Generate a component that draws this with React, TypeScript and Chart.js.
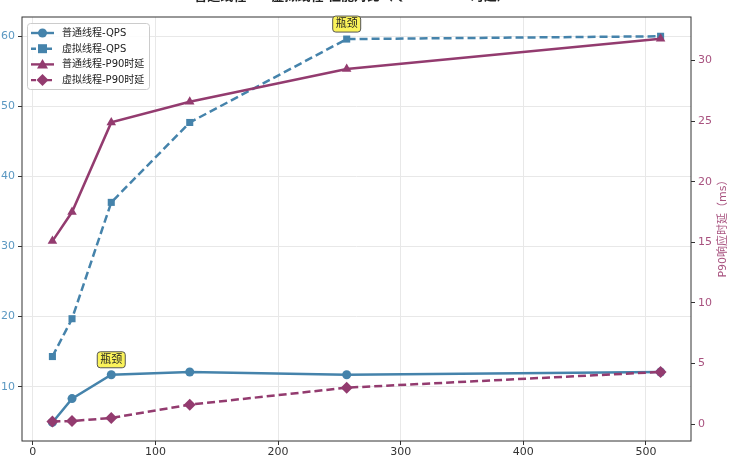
import React from "react"
import { Chart, registerables } from "chart.js"

Chart.register(...registerables)

const threads = [16, 32, 64, 128, 256, 512]
const platformQps = [4.9, 8.3, 11.7, 12.1, 11.7, 12.1]
const virtualQps = [14.3, 19.7, 36.3, 47.7, 59.6, 60.0]
const platformP90 = [15.1, 17.5, 24.9, 26.6, 29.3, 31.8]
const virtualP90 = [0.2, 0.25, 0.5, 1.6, 3.0, 4.3]
const bottlenecks = [
  { x: 64, y: 11.7 },
  { x: 256, y: 59.6 },
]
const xTicks = [0, 100, 200, 300, 400, 500]
const qpsTicks = [10, 20, 30, 40, 50, 60]
const p90Ticks = [0, 5, 10, 15, 20, 25, 30]

const BLUE = "#4583ab"
const PURPLE = "#933b6f"
const DASH = [8, 4]
const FONT = "'DejaVu Sans', 'Noto Sans CJK SC', sans-serif"
const TITLE = "普通线程 vs 虚拟线程 性能对比（QPS & P90时延）"
const RIGHT_TITLE = "P90响应时延（ms）"

const pts = (ys: number[]) => threads.map((x, i) => ({ x, y: ys[i] }))
const fixTicks = (values: number[]) => (s: any) => {
  s.ticks = values.map((value) => ({ value }))
}

const legendItems = [
  { label: "普通线程-QPS", color: BLUE, dash: [] as number[], marker: "circle" },
  { label: "虚拟线程-QPS", color: BLUE, dash: [5, 3], marker: "rect" },
  { label: "普通线程-P90时延", color: PURPLE, dash: [] as number[], marker: "triangle" },
  { label: "虚拟线程-P90时延", color: PURPLE, dash: [5, 3], marker: "rectRot" },
]

function marker(ctx: CanvasRenderingContext2D, kind: string, x: number, y: number, color: string) {
  ctx.save()
  ctx.fillStyle = color
  ctx.beginPath()
  if (kind === "circle") ctx.arc(x, y, 4.5, 0, Math.PI * 2)
  else if (kind === "rect") ctx.rect(x - 4.5, y - 4.5, 9, 9)
  else if (kind === "triangle") {
    ctx.moveTo(x, y - 5.5)
    ctx.lineTo(x + 5.5, y + 4)
    ctx.lineTo(x - 5.5, y + 4)
    ctx.closePath()
  } else {
    ctx.moveTo(x, y - 6)
    ctx.lineTo(x + 6, y)
    ctx.lineTo(x, y + 6)
    ctx.lineTo(x - 6, y)
    ctx.closePath()
  }
  ctx.fill()
  ctx.restore()
}

function roundRect(ctx: CanvasRenderingContext2D, x: number, y: number, w: number, h: number, r: number) {
  ctx.beginPath()
  ctx.moveTo(x + r, y)
  ctx.lineTo(x + w - r, y)
  ctx.quadraticCurveTo(x + w, y, x + w, y + r)
  ctx.lineTo(x + w, y + h - r)
  ctx.quadraticCurveTo(x + w, y + h, x + w - r, y + h)
  ctx.lineTo(x + r, y + h)
  ctx.quadraticCurveTo(x, y + h, x, y + h - r)
  ctx.lineTo(x, y + r)
  ctx.quadraticCurveTo(x, y, x + r, y)
  ctx.closePath()
}

const extras = {
  id: "extras",
  afterDraw(chart: any) {
    const ctx = chart.ctx as CanvasRenderingContext2D
    const a = chart.chartArea
    ctx.save()
    // frame
    ctx.strokeStyle = "#333"
    ctx.lineWidth = 1
    ctx.strokeRect(a.left, a.top, a.right - a.left, a.bottom - a.top)

    // title, clipped by the top edge
    ctx.fillStyle = "#222"
    ctx.font = `bold 13px ${FONT}`
    ctx.textAlign = "center"
    ctx.textBaseline = "bottom"
    ctx.fillText(TITLE, 352, 3)

    // right axis title, reading bottom to top
    ctx.save()
    ctx.translate(723, 226)
    ctx.rotate(-Math.PI / 2)
    ctx.textBaseline = "middle"
    ctx.font = `11px ${FONT}`
    ctx.fillStyle = "#a8527f"
    ctx.fillText(RIGHT_TITLE, 0, 0)
    ctx.restore()

    // bottleneck labels
    const xs = chart.scales.x
    const ys = chart.scales.y
    ctx.font = `11px ${FONT}`
    ctx.textBaseline = "middle"
    bottlenecks.forEach((b) => {
      const px = xs.getPixelForValue(b.x)
      const py = ys.getPixelForValue(b.y) - 15
      roundRect(ctx, px - 14, py - 8, 28, 16, 3)
      ctx.fillStyle = "#fbf35a"
      ctx.fill()
      ctx.strokeStyle = "#555"
      ctx.lineWidth = 1
      ctx.stroke()
      ctx.fillStyle = "#222"
      ctx.fillText("瓶颈", px, py + 0.5)
    })

    // legend
    roundRect(ctx, 27.5, 23.5, 122, 66, 3)
    ctx.fillStyle = "rgba(255,255,255,0.85)"
    ctx.fill()
    ctx.strokeStyle = "#cccccc"
    ctx.stroke()
    ctx.textAlign = "left"
    ctx.font = `10px ${FONT}`
    legendItems.forEach((it, i) => {
      const y = 33 + i * 15.7
      ctx.strokeStyle = it.color
      ctx.lineWidth = 2.4
      ctx.setLineDash(it.dash)
      ctx.beginPath()
      ctx.moveTo(31, y)
      ctx.lineTo(54, y)
      ctx.stroke()
      ctx.setLineDash([])
      marker(ctx, it.marker, 42.5, y, it.color)
      ctx.fillStyle = "#222"
      ctx.fillText(it.label, 62, y + 0.5)
    })
    ctx.restore()
  },
}

const ThreadChart = () => {
  const chartRef = React.useRef<HTMLCanvasElement>(null)

  React.useEffect(() => {
    if (chartRef.current == null) {
      return
    }

    const common = { borderWidth: 2.5, pointBorderWidth: 0, showLine: true, tension: 0 }

    const chart = new Chart(chartRef.current, {
      type: "scatter",
      data: {
        datasets: [
          {
            ...common,
            label: "普通线程-QPS",
            data: pts(platformQps),
            yAxisID: "y",
            order: 4,
            borderColor: BLUE,
            backgroundColor: BLUE,
            pointStyle: "circle",
            pointRadius: 4.5,
          },
          {
            ...common,
            label: "虚拟线程-QPS",
            data: pts(virtualQps),
            yAxisID: "y",
            order: 3,
            borderColor: BLUE,
            backgroundColor: BLUE,
            borderDash: DASH,
            pointStyle: "rect",
            pointRadius: 5,
          },
          {
            ...common,
            label: "普通线程-P90时延",
            data: pts(platformP90),
            yAxisID: "y2",
            order: 2,
            borderColor: PURPLE,
            backgroundColor: PURPLE,
            pointStyle: "triangle",
            pointRadius: 5.5,
          },
          {
            ...common,
            label: "虚拟线程-P90时延",
            data: pts(virtualP90),
            yAxisID: "y2",
            order: 1,
            borderColor: PURPLE,
            backgroundColor: PURPLE,
            borderDash: DASH,
            pointStyle: "rectRot",
            pointRadius: 6,
          },
        ],
      },
      options: {
        animation: false,
        responsive: true,
        maintainAspectRatio: false,
        layout: { padding: { top: 17, left: 0, right: 0, bottom: 0 } },
        plugins: { legend: { display: false }, title: { display: false }, tooltip: { enabled: false } },
        scales: {
          x: {
            type: "linear",
            min: -8.8,
            max: 536.8,
            afterFit: (s: any) => {
              s.height = 16
            },
            afterBuildTicks: fixTicks(xTicks),
            border: { display: false },
            grid: { color: "#e8e8e8", tickColor: "#333", tickLength: 4 },
            ticks: {
              padding: 1,
              color: "#333",
              font: { family: FONT, size: 11 },
            },
          },
          y: {
            position: "left",
            min: 2.25,
            max: 62.75,
            afterFit: (s: any) => {
              s.width = 22
            },
            afterBuildTicks: fixTicks(qpsTicks),
            border: { display: false },
            grid: { color: "#e8e8e8", tickColor: "#333", tickLength: 4 },
            ticks: {
              padding: 3,
              color: "#5b98c2",
              font: { family: FONT, size: 11 },
            },
          },
          y2: {
            position: "right",
            min: -1.4,
            max: 33.6,
            afterFit: (s: any) => {
              s.width = 39
            },
            afterBuildTicks: fixTicks(p90Ticks),
            border: { display: false },
            grid: { drawOnChartArea: false, tickColor: "#333", tickLength: 4 },
            ticks: {
              padding: 3,
              color: "#a8527f",
              font: { family: FONT, size: 11 },
            },
          },
        },
      },
      plugins: [extras],
    })

    return () => {
      chart.destroy()
    }
  }, [])

  return (
    <div style={{ position: "fixed", left: 0, top: 0, width: 730, height: 457, background: "#fff" }}>
      <canvas ref={chartRef} />
    </div>
  )
}

export default function App() {
  return <ThreadChart />
}
